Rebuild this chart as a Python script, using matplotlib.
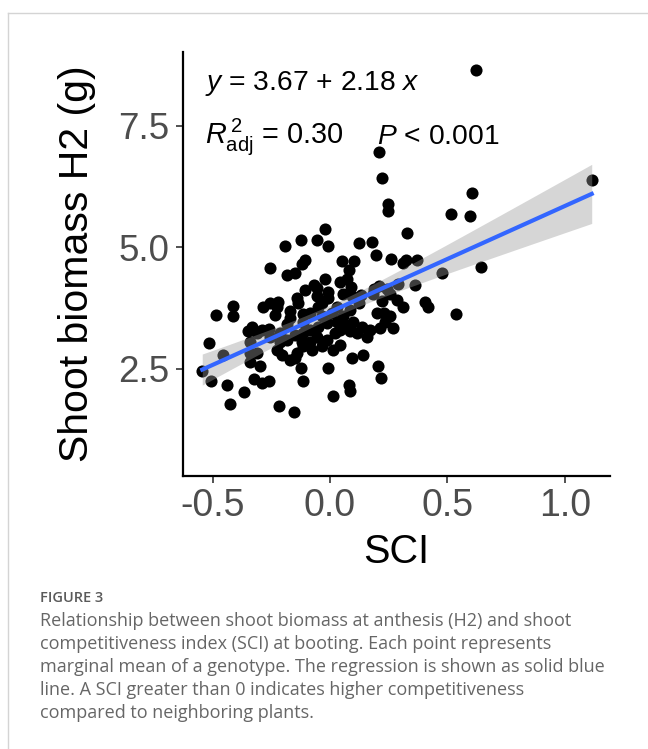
import numpy as np
import matplotlib

matplotlib.use("Agg")
import matplotlib.pyplot as plt
from matplotlib.lines import Line2D

# values
sci = [
    0.62, 0.21, 0.22, 1.115, 0.605, 0.246, 0.249, 0.514, 0.597, 0.33,
    -0.021, -0.124, -0.054, -0.007, -0.19, 0.124, 0.179, 0.197, 0.261, 0.324,
    0.372, 0.3125, 0.053, 0.104, 0.081, -0.257, -0.107, -0.121, -0.148, -0.185,
    0.642, 0.479, 0.364, 0.288, 0.209, 0.1875, 0.241, -0.023, -0.068, -0.107,
    0.043, 0.071, 0.089, -0.007, -0.007, -0.142, -0.135, -0.057, -0.05, -0.22,
    -0.227, -0.234, -0.284, -0.412, -0.412, -0.487, 0.124, 0.132, 0.22, 0.284,
    0.3125, 0.405, 0.419, 0.537, 0.199, 0.23, 0.256, 0.234, 0.213, 0.267,
    -0.116, -0.17, -0.185, -0.334, -0.291, -0.26, -0.3125, -0.341, -0.516, -0.455,
    -0.341, -0.3125, -0.341, -0.298, -0.544, -0.507, -0.4375, -0.366, -0.426, -0.324,
    -0.291, -0.26, -0.216, -0.152, -0.125, -0.116, -0.01, 0.011, 0.082, 0.087,
    0.092, 0.142, 0.203, 0.216, 0.156, 0.085, 0.043, 0.014, -0.036, -0.085,
    -0.114, -0.142, -0.149, -0.227, -0.206, -0.185, -0.149, -0.085, -0.05, -0.014,
    0.028, 0.057, 0.099, 0.135, 0.021, -0.014, -0.057, -0.114, -0.213, -0.256,
    0.057, 0.092, 0.028, 0.085, -0.085, -0.036, 0.007, -0.114, -0.17, -0.057,
    0.185, 0.256, -0.348, -0.213, -0.078, 0.17, -0.036, -0.121, -0.028, 0.043,
    0.064, 0.114, -0.17, -0.256,
]
biomass = [
    8.66, 6.97, 6.42, 6.38, 6.12, 5.90, 5.75, 5.68, 5.65, 5.30,
    5.37, 5.15, 5.16, 5.03, 5.03, 5.10, 5.12, 4.84, 4.76, 4.74,
    4.75, 4.67, 4.71, 4.71, 4.53, 4.57, 4.73, 4.66, 4.48, 4.43,
    4.59, 4.47, 4.23, 4.24, 4.21, 4.14, 4.14, 4.34, 4.23, 4.12,
    4.29, 4.34, 4.19, 4.09, 3.95, 3.95, 3.85, 3.99, 3.78, 3.88,
    3.78, 3.61, 3.77, 3.80, 3.59, 3.60, 3.85, 4.02, 3.90, 3.92,
    3.78, 3.88, 3.77, 3.62, 3.64, 3.64, 3.58, 3.47, 3.34, 3.34,
    3.62, 3.54, 3.42, 3.36, 3.30, 3.32, 3.23, 3.06, 3.04, 2.79,
    2.82, 2.82, 2.65, 2.55, 2.46, 2.24, 2.16, 2.03, 1.77, 2.29,
    2.21, 2.24, 1.73, 1.62, 2.51, 2.24, 2.51, 1.95, 2.17, 2.05,
    2.72, 2.79, 2.56, 2.31, 3.16, 3.27, 2.99, 2.89, 2.97, 3.06,
    2.96, 2.82, 2.72, 2.89, 2.79, 3.10, 3.20, 3.30, 3.37, 3.44,
    3.47, 3.58, 3.47, 3.37, 3.23, 3.10, 3.16, 3.23, 3.23, 3.16,
    4.05, 3.99, 3.78, 3.71, 3.64, 3.58, 3.64, 3.47, 3.68, 4.16,
    4.05, 4.04, 3.27, 3.05, 2.89, 3.30, 3.85, 3.06, 3.06, 3.30,
    3.40, 3.23, 2.68, 3.85,
]
intercept, slope = 3.67, 2.18
x_ticks = [-0.5, 0.0, 0.5, 1.0]
y_ticks = [2.5, 5.0, 7.5]

caption_title = "FIGURE 3"
caption_lines = [
    "Relationship between shoot biomass at anthesis (H2) and shoot",
    "competitiveness index (SCI) at booting. Each point represents",
    "marginal mean of a genotype. The regression is shown as solid blue",
    "line. A SCI greater than 0 indicates higher competitiveness",
    "compared to neighboring plants.",
]

plt.rcParams["font.family"] = ["Liberation Sans", "DejaVu Sans"]
plt.rcParams["mathtext.fontset"] = "custom"
plt.rcParams["mathtext.rm"] = "Liberation Sans"
plt.rcParams["mathtext.it"] = "Liberation Sans:italic"
plt.rcParams["axes.unicode_minus"] = False

x = np.array(sci)
y = np.array(biomass)

# confidence band around the reported fit (t ~ 1.973)
n = len(x)
resid = y - (intercept + slope * x)
s = np.sqrt(np.sum(resid ** 2) / (n - 2))
xx = np.linspace(x.min(), x.max(), 100)
yy = intercept + slope * xx
se = s * np.sqrt(1 / n + (xx - x.mean()) ** 2 / np.sum((x - x.mean()) ** 2))
t = 1.973

fig = plt.figure(figsize=(6.48, 7.49), dpi=100)
ax = fig.add_axes([0.2824, 0.3645, 0.659, 0.566])

ax.scatter(x, y, s=76, color="black", linewidths=0, zorder=2)
ax.fill_between(xx, yy - t * se, yy + t * se, color="#999999", alpha=0.4,
                linewidth=0, zorder=3)
ax.plot(xx, yy, color="#3366FF", linewidth=3.0, zorder=4)

ax.set_xlim(-0.626, 1.193)
ax.set_ylim(0.294, 9.02)
ax.set_xticks(x_ticks)
ax.set_xticklabels([f"{v:.1f}" for v in x_ticks])
ax.set_yticks(y_ticks)
ax.set_yticklabels([f"{v:.1f}" for v in y_ticks])
ax.tick_params(axis="both", length=5, width=1.2, color="#333333",
               labelcolor="#4D4D4D")
ax.tick_params(axis="x", labelsize=27, pad=4)
ax.tick_params(axis="y", labelsize=26.5, pad=5)
for side in ("top", "right"):
    ax.spines[side].set_visible(False)
for side in ("left", "bottom"):
    ax.spines[side].set_linewidth(1.6)

ax.set_xlabel("SCI", fontsize=28.5, labelpad=6)
ax.set_ylabel("Shoot biomass H2 (g)", fontsize=29.5, labelpad=16)

ax.text(0.052, 0.925, r"$\mathit{y}$ = 3.67 + 2.18 $\mathit{x}$",
        transform=ax.transAxes, fontsize=20.3, ha="left", va="center")
ax.text(0.052, 0.80, r"$\mathit{R}^{\,2}_{\mathrm{adj}}$ = 0.30",
        transform=ax.transAxes, fontsize=20.8, ha="left", va="center")
ax.text(0.454, 0.80, r"$\mathit{P}$ < 0.001",
        transform=ax.transAxes, fontsize=20.3, ha="left", va="center")

# page frame
frame = "#d4d4d4"
fig.add_artist(Line2D([8 / 648, 1], [1 - 12.5 / 749] * 2, color=frame,
                      linewidth=1.0, transform=fig.transFigure))
fig.add_artist(Line2D([8 / 648] * 2, [0, 1 - 12.5 / 749], color=frame,
                      linewidth=1.0, transform=fig.transFigure))

fig.text(40 / 648, 1 - 598 / 749, caption_title, family="Open Sans",
         fontsize=10.5, fontweight="semibold", color="#5a5a5a", va="center")
for i, line in enumerate(caption_lines):
    fig.text(40 / 648, 1 - (621 + 23 * i) / 749, line, family="Open Sans",
             fontsize=13.0, color="#666666", va="center")

fig.savefig("out.png", dpi=100)
